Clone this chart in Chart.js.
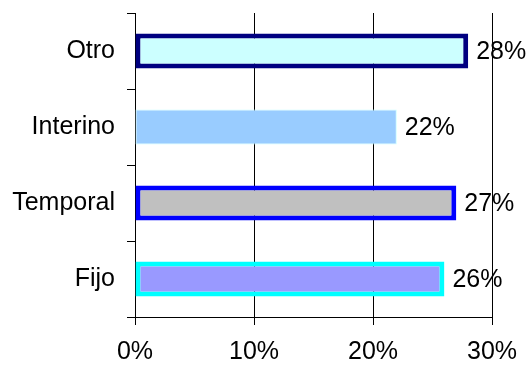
<!DOCTYPE html>
<html>
<head>
<meta charset="utf-8">
<script src="https://cdn.jsdelivr.net/npm/chart.js@4/dist/chart.umd.min.js"></script>
<style>
  html, body { margin: 0; padding: 0; background: #fff; }
  #plot1 { display: block; }
</style>
</head>
<body>
<canvas id="plot1" width="530" height="365"></canvas>
<script>
// contract types, top to bottom
const categories = ["Otro", "Interino", "Temporal", "Fijo"];
const shares = [28, 22, 27, 26];
const fillColors = ["#ccffff", "#99ccff", "#c0c0c0", "#9999ff"];
const edgeColors = ["#000080", "#ccffff", "#0000ff", "#00ffff"];
const edgeWidths = [5, 1, 5, 5];
const xTicks = [0, 10, 20, 30];

const fontFamily = "'Liberation Sans', Arial, sans-serif";
Chart.defaults.font.family = fontFamily;
Chart.defaults.font.size = 25;
Chart.defaults.color = "#000";

// percentage written just past the end of each bar;
// drawn first so the grid lines sit on top of it
const barLabels = {
    id: "barLabels",
    beforeDraw(chart) {
        const ctx = chart.ctx;
        const meta = chart.getDatasetMeta(0);
        ctx.save();
        ctx.font = "25px " + fontFamily;
        ctx.fillStyle = "#000";
        ctx.textAlign = "left";
        ctx.textBaseline = "middle";
        meta.data.forEach((bar, i) => {
            ctx.fillText(shares[i] + "%", bar.x + 8, bar.y + 1);
        });
        ctx.restore();
    }
};

new Chart(document.getElementById("plot1"), {
    type: "bar",
    data: {
        labels: categories,
        datasets: [{
            data: shares,
            backgroundColor: fillColors,
            borderColor: edgeColors,
            borderWidth: edgeWidths,
            borderSkipped: false,
            barPercentage: 0.46,
            categoryPercentage: 1
        }]
    },
    options: {
        indexAxis: "y",
        responsive: false,
        animation: false,
        devicePixelRatio: 1,
        layout: { padding: { top: 13, right: 38, left: 0, bottom: 0 } },
        plugins: {
            legend: { display: false },
            tooltip: { enabled: false }
        },
        scales: {
            x: {
                min: 0,
                max: 30,
                afterBuildTicks: s => { s.ticks = xTicks.map(v => ({ value: v })); },
                afterFit: s => { s.height = 48; },
                grid: { color: "#000", lineWidth: 1, tickLength: 8 },
                border: { color: "#000", width: 1 },
                ticks: {
                    padding: 12,
                    callback: v => v + "%"
                }
            },
            y: {
                afterFit: s => {
                    s.width = 135;
                    s.paddingTop = 0;
                    s.paddingBottom = 0;
                },
                grid: {
                    offset: true,
                    drawOnChartArea: false,
                    color: "#000",
                    tickLength: 8
                },
                border: { color: "#000", width: 1 },
                ticks: { padding: 12 }
            }
        }
    },
    plugins: [barLabels]
});
</script>
</body>
</html>
